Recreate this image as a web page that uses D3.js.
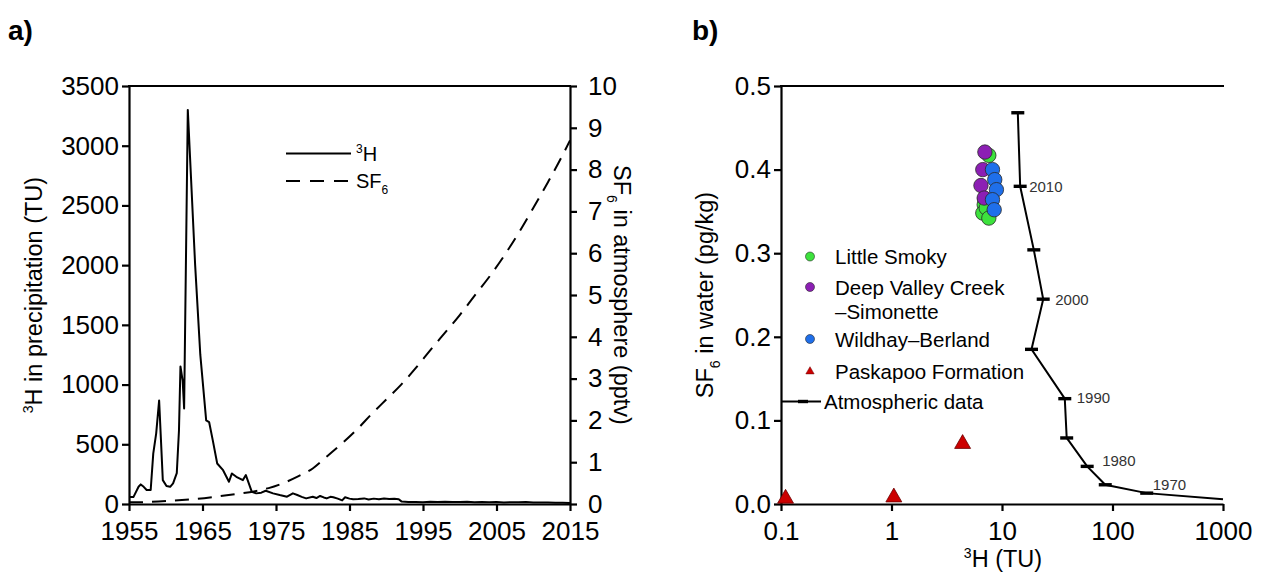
<!DOCTYPE html>
<html><head><meta charset="utf-8">
<script src="https://cdn.jsdelivr.net/npm/d3@7"></script>
<style>
body{margin:0;background:#fff}
text{font-family:"Liberation Sans",Arial,sans-serif;fill:#000}
</style>
</head><body>
<svg id="c" width="1265" height="576"></svg>
<script>
// ---------- Panel a data ----------
const h3Years=[1955.1,1955.6,1956.3,1956.6,1957.0,1957.4,1957.95,1958.3,1958.7,1959.1,1959.35,1959.6,1960.1,1960.6,1961.0,1961.5,1961.8,1962.0,1962.3,1962.5,1963.0,1964.0,1964.7,1965.5,1965.9,1966.4,1967.0,1967.8,1968.6,1969.0,1969.6,1970.5,1970.9,1971.7,1972.3,1973.0,1973.6,1974.6,1975.5,1976.5,1977.3,1977.9,1978.5,1979.1,1980.0,1980.5,1981.0,1981.5,1981.9,1982.4,1982.8,1983.4,1984.0,1984.4,1985.0,1985.5,1986.2,1987.0,1987.6,1988.3,1989.0,1989.7,1990.4,1991.1,1991.7,1992.1,1993,1994,1995,1996,1997,1998,1999,2000,2001,2002,2003,2004,2005,2006,2007,2008,2009,2010,2011,2012,2013,2014,2015];
const h3TU=[58,58,144,164,144,117,117,422,592,867,533,200,150,144,172,258,617,1152,1033,800,3300,2000,1250,700,686,533,339,283,186,256,228,200,242,103,89,95,111,89,75,61,89,75,60,47,61,50,67,55,47,60,56,45,30,56,45,39,42,47,38,45,40,46,42,44,40,20,16,17,15,18,16,19,17,16,18,15,17,14,16,13,15,14,16,13,12,13,11,10,9];
const sf6Years=[1955,1958,1961,1964,1967,1970,1972,1974,1976,1978,1980,1982,1984,1986,1988,1990,1992,1994,1996,1998,2000,2002,2004,2006,2008,2010,2012,2014,2015];
const sf6Pptv=[0.04,0.05,0.08,0.12,0.18,0.25,0.3,0.38,0.5,0.66,0.85,1.15,1.45,1.78,2.15,2.5,2.85,3.25,3.68,4.1,4.52,4.98,5.43,5.93,6.48,7.08,7.7,8.35,8.7];
const yearTicks=[1955,1965,1975,1985,1995,2005,2015];
const tuTicks=[0,500,1000,1500,2000,2500,3000,3500];
const pptvTicks=[0,1,2,3,4,5,6,7,8,9,10];

// ---------- Panel b data ----------
const atmYears=[2015,2010,2005,2000,1995,1990,1985,1980,1975,1970,1960];
const atmTU=[13.9,14.6,19.4,23.6,18.5,37,38.5,59,86,204,1000];
const atmSF6=[0.468,0.38,0.304,0.245,0.185,0.126,0.079,0.045,0.023,0.013,0.0056];
const atmLabelYears=[2010,2000,1990,1980,1970];
const smokyTU=[7.6,7.0,6.9,6.7,7.2,7.6];
const smokySF6=[0.417,0.365,0.358,0.348,0.354,0.342];
const deepTU=[7.0,6.7,6.45,6.9];
const deepSF6=[0.421,0.40,0.381,0.366];
const wildTU=[8.2,8.6,8.9,8.2,8.5];
const wildSF6=[0.40,0.388,0.376,0.364,0.352];
const paskTU=[0.11,1.05,4.4];
const paskSF6=[0.0065,0.008,0.072];
const logTicks=[0.1,1,10,100,1000];
const sfTicks=[0,0.1,0.2,0.3,0.4,0.5];

const svg=d3.select("#c");
const FS=26;

function styleAxis(g){
  g.select(".domain").attr("stroke","#000").attr("stroke-width",2.2);
  g.selectAll(".tick line").attr("stroke","#000").attr("stroke-width",2.2);
  g.selectAll(".tick text").style("font-size",FS+"px").style("font-family","'Liberation Sans',Arial,sans-serif");
}

// ===== Panel a =====
const ax=d3.scaleLinear().domain([1955,2015]).range([129,570]);
const ayL=d3.scaleLinear().domain([0,3500]).range([504,86]);
const ayR=d3.scaleLinear().domain([0,10]).range([504,86]);
const ga=svg.append("g");

ga.append("g").attr("transform","translate(0,504)")
  .call(d3.axisBottom(ax).tickValues(yearTicks).tickFormat(d3.format("d")).tickSize(7).tickSizeOuter(0).tickPadding(11))
  .call(styleAxis);
ga.append("g").attr("transform","translate(129,0)")
  .call(d3.axisLeft(ayL).tickValues(tuTicks).tickFormat(d3.format("d")).tickSize(7).tickSizeOuter(0).tickPadding(3))
  .call(styleAxis);
ga.append("g").attr("transform","translate(570,0)")
  .call(d3.axisRight(ayR).tickValues(pptvTicks).tickFormat(d3.format("d")).tickSize(7).tickSizeOuter(0).tickPadding(11))
  .call(styleAxis);
ga.append("line").attr("x1",128).attr("x2",571).attr("y1",ayL(3500)).attr("y2",ayL(3500)).attr("stroke","#000").attr("stroke-width",2.2);

ga.append("path").datum(d3.zip(sf6Years,sf6Pptv))
  .attr("d",d3.line().x(d=>ax(d[0])).y(d=>ayR(d[1])).curve(d3.curveMonotoneX))
  .attr("fill","none").attr("stroke","#000").attr("stroke-width",2).attr("stroke-dasharray","14,9");
ga.append("path").datum(d3.zip(h3Years,h3TU))
  .attr("d",d3.line().x(d=>ax(d[0])).y(d=>ayL(d[1])))
  .attr("fill","none").attr("stroke","#000").attr("stroke-width",2).attr("stroke-linejoin","round");

// legend a
ga.append("line").attr("x1",286).attr("x2",351).attr("y1",153.5).attr("y2",153.5).attr("stroke","#000").attr("stroke-width",2);
ga.append("line").attr("x1",286).attr("x2",351).attr("y1",181).attr("y2",181).attr("stroke","#000").attr("stroke-width",2).attr("stroke-dasharray","14,10");
const la1=ga.append("text").attr("x",356).attr("y",161).style("font-size","20px");
la1.append("tspan").text("3").style("font-size","12px").attr("dy",-8);
la1.append("tspan").text("H").attr("dy",8);
const la2=ga.append("text").attr("x",356).attr("y",188).style("font-size","20px");
la2.append("tspan").text("SF");
la2.append("tspan").text("6").style("font-size","12px").attr("dy",6);

// axis titles a
const t1=ga.append("text").attr("transform","translate(42,295) rotate(-90)").attr("text-anchor","middle").style("font-size","23.5px");
t1.append("tspan").text("3").style("font-size","14px").attr("dy",-9);
t1.append("tspan").text("H in precipitation (TU)").attr("dy",9);
const t2=ga.append("text").attr("transform","translate(614,295) rotate(90)").attr("text-anchor","middle").style("font-size","23.5px");
t2.append("tspan").text("SF");
t2.append("tspan").text("6").style("font-size","14px").attr("dy",7);
t2.append("tspan").text(" in atmosphere (pptv)").attr("dy",-7);
svg.append("text").attr("x",8).attr("y",40).style("font-size","28px").style("font-weight","bold").text("a)");

// ===== Panel b =====
const bx=d3.scaleLog().domain([0.1,1000]).range([781,1223]);
const by=d3.scaleLinear().domain([0,0.5]).range([504,86]);
const gb=svg.append("g");
gb.append("g").attr("transform","translate(0,504)")
  .call(d3.axisBottom(bx).tickValues(logTicks).tickFormat(d=>String(d)).tickSize(7).tickSizeOuter(0).tickPadding(11))
  .call(styleAxis);
gb.append("g").attr("transform","translate(781,0)")
  .call(d3.axisLeft(by).tickValues(sfTicks).tickFormat(d3.format(".1f")).tickSize(7).tickSizeOuter(0).tickPadding(3))
  .call(styleAxis);
gb.append("line").attr("x1",780).attr("x2",1224).attr("y1",by(0.5)).attr("y2",by(0.5)).attr("stroke","#000").attr("stroke-width",2.2);

// atmospheric line
const atm=d3.zip(atmTU,atmSF6,atmYears);
gb.append("path").datum(atm)
  .attr("d",d3.line().x(d=>bx(d[0])).y(d=>by(d[1])))
  .attr("fill","none").attr("stroke","#000").attr("stroke-width",2);
gb.selectAll(".atick").data(atm.slice(0,-1)).join("line")
  .attr("x1",d=>bx(d[0])-6.5).attr("x2",d=>bx(d[0])+6.5).attr("y1",d=>by(d[1])).attr("y2",d=>by(d[1]))
  .attr("stroke","#000").attr("stroke-width",3.4);
const lblOff={2010:[9,5.5],2000:[12,6],1990:[12,4],1980:[15,0],1970:[6,-3]};
gb.selectAll(".alab").data(atm.filter(d=>atmLabelYears.includes(d[2]))).join("text")
  .attr("x",d=>bx(d[0])+lblOff[d[2]][0]).attr("y",d=>by(d[1])+lblOff[d[2]][1])
  .style("font-size","15px").style("fill","#333").text(d=>d[2]);

// points
function pts(tu,sf,col){
  gb.append("g").selectAll("circle").data(d3.zip(tu,sf)).join("circle")
    .attr("cx",d=>bx(d[0])).attr("cy",d=>by(d[1])).attr("r",7.2)
    .attr("fill",col).attr("stroke","#2a2a2a").attr("stroke-width",0.8);
}
pts(smokyTU,smokySF6,"#3de23d");
pts(deepTU,deepSF6,"#8c1fb4");
pts(wildTU,wildSF6,"#1f6fea");
gb.append("g").selectAll("path").data(d3.zip(paskTU,paskSF6)).join("path")
  .attr("transform",d=>`translate(${bx(d[0])},${by(d[1])})`)
  .attr("d",d3.symbol(d3.symbolTriangle,110))
  .attr("fill","#cc0000").attr("stroke","#6a0000").attr("stroke-width",0.8);

// legend b
const lg=gb.append("g").style("font-size","20.5px");
const legY=[256.5,287,339,371.5,401.5];
lg.append("circle").attr("cx",810).attr("cy",legY[0]).attr("r",4.5).attr("fill","#3de23d").attr("stroke","#2a2a2a").attr("stroke-width",0.6);
lg.append("circle").attr("cx",810).attr("cy",legY[1]).attr("r",4.5).attr("fill","#8c1fb4").attr("stroke","#2a2a2a").attr("stroke-width",0.6);
lg.append("circle").attr("cx",810).attr("cy",legY[2]).attr("r",4.5).attr("fill","#1f6fea").attr("stroke","#2a2a2a").attr("stroke-width",0.6);
lg.append("path").attr("transform",`translate(810,${legY[3]})`).attr("d",d3.symbol(d3.symbolTriangle,30)).attr("fill","#cc0000").attr("stroke","#6a0000").attr("stroke-width",0.5);
lg.append("line").attr("x1",782).attr("x2",821).attr("y1",legY[4]).attr("y2",legY[4]).attr("stroke","#000").attr("stroke-width",2);
lg.append("line").attr("x1",798).attr("x2",808).attr("y1",legY[4]).attr("y2",legY[4]).attr("stroke","#000").attr("stroke-width",3.4);
const legTxt=["Little Smoky","Deep Valley Creek","Wildhay\u2013Berland","Paskapoo Formation","Atmospheric data"];
legTxt.forEach((t,i)=>lg.append("text").attr("x",i==4?824:835).attr("y",legY[i]+7.5).text(t));
lg.append("text").attr("x",835).attr("y",legY[1]+32).text("\u2013Simonette");

// axis titles b
const t3=gb.append("text").attr("transform","translate(713,295) rotate(-90)").attr("text-anchor","middle").style("font-size","23.5px");
t3.append("tspan").text("SF");
t3.append("tspan").text("6").style("font-size","14px").attr("dy",7);
t3.append("tspan").text(" in water (pg/kg)").attr("dy",-7);
const t4=gb.append("text").attr("x",1003).attr("y",567).attr("text-anchor","middle").style("font-size","23.5px");
t4.append("tspan").text("3").style("font-size","14px").attr("dy",-9);
t4.append("tspan").text("H (TU)").attr("dy",9);
svg.append("text").attr("x",692).attr("y",40).style("font-size","28px").style("font-weight","bold").text("b)");
</script>
</body></html>
